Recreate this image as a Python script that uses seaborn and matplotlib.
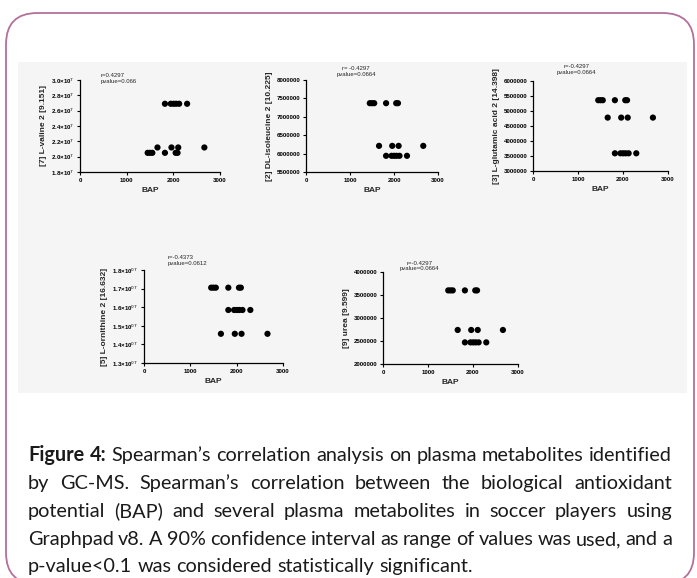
import matplotlib
matplotlib.use("Agg")
import matplotlib.pyplot as plt
import matplotlib.patches as patches
import seaborn as sns
import pandas as pd

# BAP of the 16 players (same x for every metabolite)
bap = [1450, 1500, 1550, 1820, 2050, 2090,
       1660, 1960, 2105, 2665,
       1820, 1945, 2005, 2060, 2125, 2295]

valine = [2.05e7, 2.05e7, 2.05e7, 2.05e7, 2.05e7, 2.05e7,
          2.12e7, 2.12e7, 2.12e7, 2.12e7,
          2.69e7, 2.69e7, 2.69e7, 2.69e7, 2.69e7, 2.69e7]
isoleucine = [7370000, 7370000, 7370000, 7370000, 7370000, 7370000,
              6210000, 6210000, 6210000, 6210000,
              5940000, 5940000, 5940000, 5940000, 5940000, 5940000]
glutamic = [5360000, 5360000, 5360000, 5360000, 5360000, 5360000,
            4780000, 4780000, 4780000, 4780000,
            3590000, 3590000, 3590000, 3590000, 3590000, 3590000]
ornithine = [1.705e7, 1.705e7, 1.705e7, 1.705e7, 1.705e7, 1.705e7,
             1.457e7, 1.457e7, 1.457e7, 1.457e7,
             1.585e7, 1.585e7, 1.585e7, 1.585e7, 1.585e7, 1.585e7]
urea = [3600000, 3600000, 3600000, 3600000, 3600000, 3600000,
        2740000, 2740000, 2740000, 2740000,
        2470000, 2470000, 2470000, 2470000, 2470000, 2470000]

ylabels = ["[7] L-valine 2 [9.151]", "[2] DL-isoleucine 2 [10.225]",
           "[3] L-glutamic acid 2 [14.398]", "[5] L-ornithine 2 [16.632]",
           "[9] urea [9.599]"]
r_texts = ["r=0.4297", "r= -0.4297", "r=-0.4297", "r=-0.4373", "r=-0.4297"]
p_texts = ["pvalue=0.066", "pvalue=0.0664", "pvalue=0.0664", "pvalue=0.0612", "pvalue=0.0664"]

valine_ticks = [1.8e7, 2.0e7, 2.2e7, 2.4e7, 2.6e7, 2.8e7, 3.0e7]
valine_ticklabels = ["1.8×10$^{7}$", "2.0×10$^{7}$", "2.2×10$^{7}$", "2.4×10$^{7}$",
                     "2.6×10$^{7}$", "2.8×10$^{7}$", "3.0×10$^{7}$"]
isoleucine_ticks = [5500000, 6000000, 6500000, 7000000, 7500000, 8000000]
glutamic_ticks = [3000000, 3500000, 4000000, 4500000, 5000000, 5500000, 6000000]
ornithine_ticks = [1.3e7, 1.4e7, 1.5e7, 1.6e7, 1.7e7, 1.8e7]
ornithine_ticklabels = ["1.3×10$^{07}$", "1.4×10$^{07}$", "1.5×10$^{07}$",
                        "1.6×10$^{07}$", "1.7×10$^{07}$", "1.8×10$^{07}$"]
urea_ticks = [2000000, 2500000, 3000000, 3500000, 4000000]
bap_ticks = [0, 1000, 2000, 3000]

caption_lines = [
    "Figure 4: Spearman’s correlation analysis on plasma metabolites identified",
    "by GC-MS. Spearman’s correlation between the biological antioxidant",
    "potential (BAP) and several plasma metabolites in soccer players using",
    "Graphpad v8. A 90% confidence interval as range of values was used, and a",
    "p-value<0.1 was considered statistically significant.",
]

W, H = 697, 578
sns.set_style("white")
plt.rcParams['font.family'] = ['Liberation Sans', 'DejaVu Sans']
fig = plt.figure(figsize=(W / 100, H / 100), dpi=100)


def px_box(left, top, right, bottom):
    return [left / W, 1 - bottom / H, (right - left) / W, (bottom - top) / H]


# outer rounded frame and grey panel (behind the axes)
frame = patches.FancyBboxPatch((6 / W, -6 / H), 688 / W, 571 / H,
                               boxstyle="round,pad=0,rounding_size=0.045",
                               transform=fig.transFigure, fill=False,
                               edgecolor="#b3709b", linewidth=1.3,
                               mutation_aspect=W / H, zorder=-2)
fig.patches.append(frame)
panel = patches.Rectangle((18 / W, 1 - 393 / H), 669 / W, 331 / H,
                          transform=fig.transFigure, facecolor="#f5f5f5",
                          edgecolor="none", zorder=-2)
fig.patches.append(panel)

panels = [
    (valine, px_box(80, 80, 220, 172), valine_ticks, valine_ticklabels, (0.15, 1.02)),
    (isoleucine, px_box(306, 80, 438, 172), isoleucine_ticks, None, (0.38, 1.10)),
    (glutamic, px_box(533, 81, 668, 171), glutamic_ticks, None, (0.32, 1.13)),
    (ornithine, px_box(144, 270, 283, 363), ornithine_ticks, ornithine_ticklabels, (0.17, 1.11)),
    (urea, px_box(383, 272, 518, 364), urea_ticks, None, (0.27, 1.07)),
]

for i, (vals, box, ticks, ticklabels, tpos) in enumerate(panels):
    ax = fig.add_axes(box)
    ax.set_facecolor("none")
    df = pd.DataFrame({"BAP": bap, "val": vals})
    sns.scatterplot(data=df, x="BAP", y="val", ax=ax, color="black",
                    s=20, edgecolor="none", zorder=3)
    ax.set_xlim(0, 3000)
    ax.set_ylim(ticks[0], ticks[-1])
    ax.set_xticks(bap_ticks)
    ax.set_yticks(ticks)
    if ticklabels is not None:
        ax.set_yticklabels(ticklabels)
    else:
        ax.set_yticklabels([str(t) for t in ticks])
    for s in ["top", "right"]:
        ax.spines[s].set_visible(False)
    for s in ["left", "bottom"]:
        ax.spines[s].set_color("black")
        ax.spines[s].set_linewidth(0.9)
    ax.tick_params(axis="both", which="major", direction="out", length=2.5,
                   width=0.8, labelsize=4.4, pad=1.5, colors="black",
                   left=True, bottom=True)
    for lab in ax.get_xticklabels() + ax.get_yticklabels():
        lab.set_fontweight("bold")
    ax.set_xlabel("BAP", fontsize=6, fontweight="bold", labelpad=3)
    ax.set_ylabel(ylabels[i], fontsize=6, fontweight="bold", labelpad=3)
    ha = "left" if i in (0, 3) else "center"
    ax.text(tpos[0], tpos[1], r_texts[i], transform=ax.transAxes, fontsize=4.3,
            ha=ha, va="bottom")
    ax.text(tpos[0], tpos[1] - 0.01, p_texts[i], transform=ax.transAxes,
            fontsize=4.3, ha=ha, va="top")

# justified caption
fig.canvas.draw()
renderer = fig.canvas.get_renderer()
cap_family = ["Lato", "DejaVu Sans"]
x_left, x_right = 28, 672


def text_width(s, weight, size):
    t = fig.text(0, 0, s, fontweight=weight, fontsize=size, family=cap_family)
    w = t.get_window_extent(renderer).width
    t.remove()
    return w


# size the font so the first line fills the width with normal spacing
size = 13.0
first_w = text_width("Figure 4:", "bold", size) + text_width(caption_lines[0][10:], "normal", size) \
    + text_width("a b", "normal", size) - text_width("ab", "normal", size)
size = size * (x_right - x_left) / first_w

baselines = [461, 489, 517, 545, 572]
space_w = text_width("a b", "normal", size) - text_width("ab", "normal", size)
for li, line in enumerate(caption_lines):
    words = line.split(" ")
    weights = ["bold" if (li == 0 and k < 2) else "normal" for k in range(len(words))]
    widths = [text_width(w, wt, size) for w, wt in zip(words, weights)]
    if li < len(caption_lines) - 1:
        gap = (x_right - x_left - sum(widths)) / (len(words) - 1)
    else:
        gap = space_w
    x = x_left
    for w, wt, ww in zip(words, weights, widths):
        fig.text(x / W, 1 - baselines[li] / H, w, fontweight=wt, ha="left",
                 va="baseline", fontsize=size, family=cap_family, color="#1a1a1a")
        x += ww + gap

fig.savefig("out.png", dpi=100)
